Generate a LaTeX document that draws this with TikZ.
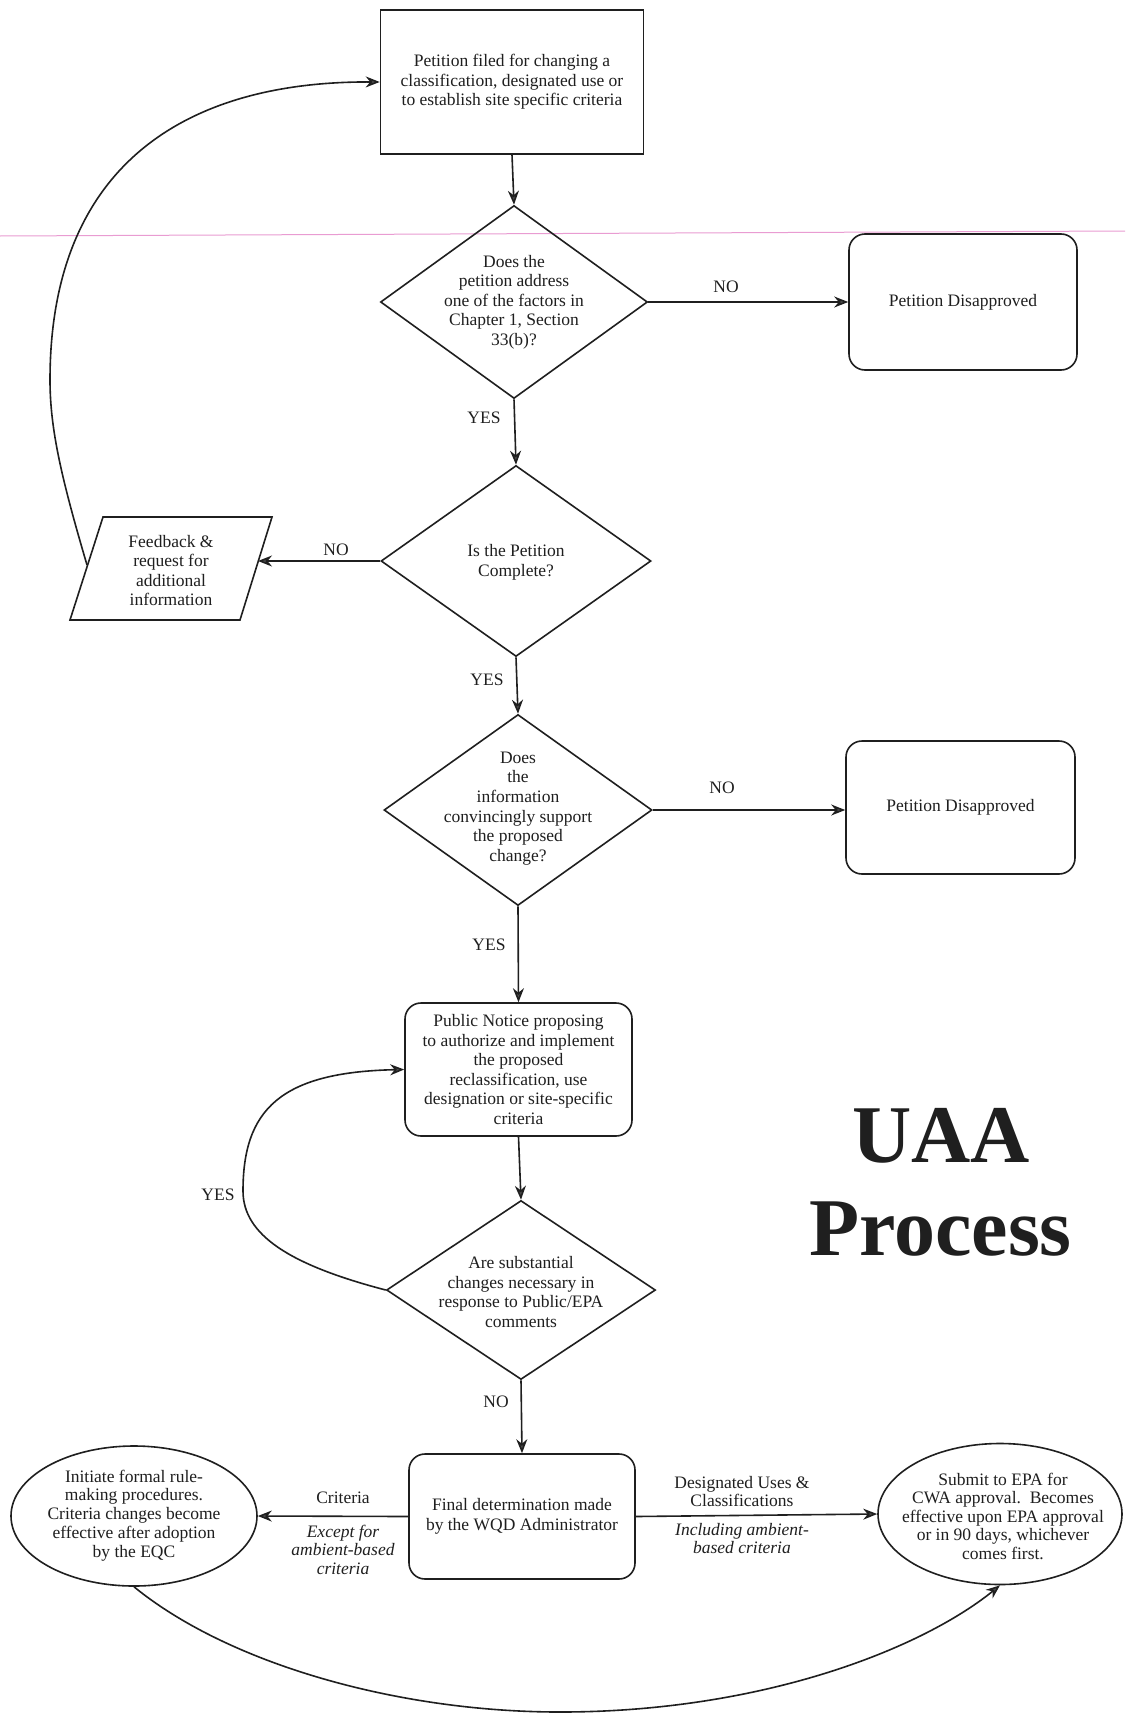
\documentclass[tikz,border=0pt]{standalone}
\usepackage{fontspec}
\setmainfont{Liberation Serif}
\usetikzlibrary{shapes.geometric,arrows.meta}
\definecolor{ink}{rgb}{0.12,0.12,0.12}
\definecolor{scanpink}{rgb}{0.88,0.45,0.75}
\begin{document}
\begin{tikzpicture}[x=1pt,y=-1pt,
  txt/.style={font=\fontsize{17.5}{19.6}\selectfont, align=center, inner sep=0pt, text=ink},
  itxt/.style={font=\fontsize{17.5}{18.5}\selectfont\itshape, align=center, inner sep=0pt, text=ink},
  shp/.style={draw=ink, line width=1.6pt, inner sep=0pt},
  sqbox/.style={shp, rectangle},
  rbox/.style={shp, rectangle, rounded corners=16pt},
  dia/.style={shp, diamond},
  ell/.style={shp, ellipse},
  arr/.style={draw=ink, line width=1.6pt, -{Stealth[length=14pt,width=11pt,fill=ink!80]}},
  titlefont/.style={anchor=base, inner sep=0pt, text=ink, font=\fontsize{82}{93}\selectfont\bfseries},
]
\useasboundingbox (0,0) rectangle (1125,1718);
\fill[white] (0,0) rectangle (1125,1718);
\draw[scanpink, line width=1pt, opacity=0.7] (0,236) -- (1125,231);

% main column
\node[sqbox, txt, minimum width=263pt, minimum height=144pt] (box1) at (512,82)
  {Petition filed for changing a\\classification, designated use or\\to establish site specific criteria};

\node[dia, minimum width=267pt, minimum height=193pt] (d1) at (514,302) {};
\node[txt] (d1t) at (514,302) {Does the\\petition address\\one of the factors in\\Chapter 1, Section\\33(b)?};
\node[rbox, txt, minimum width=228pt, minimum height=136pt] (pd1) at (963,302) {Petition Disapproved};

\node[dia, minimum width=270pt, minimum height=191pt] (d2) at (516,561) {};
\node[txt] (d2t) at (516,562) {Is the Petition\\Complete?};

% parallelogram (feedback)
\coordinate (fbA) at (103,517);
\coordinate (fbB) at (272,517);
\coordinate (fbC) at (240,620);
\coordinate (fbD) at (70,620);
\draw[shp, line join=miter] (fbA) -- (fbB) -- (fbC) -- (fbD) -- cycle;
\coordinate (fbE) at (258,561);
\coordinate (fbW) at (87,565);
\node[txt] (fbt) at (171,570.5) {Feedback \&\\request for\\additional\\information};

\node[dia, minimum width=268pt, minimum height=191pt] (d3) at (518,810) {};
\node[txt] (d3t) at (518,808.5) {Does\\the\\information\\convincingly support\\the proposed\\change?};
\node[rbox, txt, minimum width=229pt, minimum height=133pt] (pd2) at (960.5,807.5) {Petition Disapproved};

\node[rbox, txt, minimum width=227pt, minimum height=133pt] (pn) at (518.5,1069.5)
  {Public Notice proposing\\to authorize and implement\\the proposed\\reclassification, use\\designation or site-specific\\criteria};

\node[dia, minimum width=269pt, minimum height=179pt] (d4) at (521,1290) {};
\node[txt] (d4t) at (521,1292) {Are substantial\\changes necessary in\\response to Public/EPA\\comments};

\node[rbox, txt, minimum width=226pt, minimum height=125pt] (fin) at (522,1516.5)
  {Final determination made\\by the WQD Administrator};

\node[ell, minimum width=246pt, minimum height=140pt] (el) at (134,1516) {};
\node[txt, font=\fontsize{17.5}{18.8}\selectfont] (elt) at (134,1515.5)
  {Initiate formal rule-\\making procedures.\\Criteria changes become\\effective after adoption\\by the EQC};

\node[ell, minimum width=244pt, minimum height=141pt] (er) at (1000,1514) {};
\node[txt, font=\fontsize{17.5}{18.5}\selectfont] (ert) at (1003,1516)
  {Submit to EPA for\\CWA approval.\ \ Becomes\\effective upon EPA approval\\or in 90 days, whichever\\comes first.};

% title
\node[titlefont] (uaa) at (941,1162) {UAA};
\node[titlefont] (proc) at (940.5,1255) {Process};

% labels
\node[txt] (no1) at (726,287) {NO};
\node[txt] (yes1) at (484,418) {YES};
\node[txt] (no2) at (336,550) {NO};
\node[txt] (yes2) at (487,680) {YES};
\node[txt] (no3) at (722,788) {NO};
\node[txt] (yes3) at (489,945) {YES};
\node[txt] (yes4) at (218,1195) {YES};
\node[txt] (no4) at (496,1402) {NO};
\node[txt] (crit) at (343,1498) {Criteria};
\node[itxt] (exc) at (343,1549.5) {Except for\\ambient-based\\criteria};
\node[txt, font=\fontsize{17.5}{18}\selectfont] (des) at (742,1491) {Designated Uses \&\\Classifications};
\node[itxt, font=\fontsize{17.5}{18}\selectfont\itshape] (inc) at (742,1538) {Including ambient-\\based criteria};

% connectors
\draw[arr] (box1.south) -- (d1.north);
\draw[arr] (d1.east) -- (pd1.west);
\draw[arr] (d1.south) -- (d2.north);
\draw[arr] (d2.west) -- (fbE);
\draw[arr] (d2.south) -- (d3.north);
\draw[arr] (d3.east) -- (d3.east -| pd2.west);
\draw[arr] (d3.south) -- (pn.north);
\draw[arr] (pn.south) -- (d4.north);
\draw[arr] (d4.south) -- (fin.north);
\draw[arr] (fin.west) -- (el.east);
\draw[arr] (fin.east) -- (er.west);

\draw[arr] (fbW) .. controls (62,480) and (50,430) .. (50,380)
  .. controls (50,170) and (180,81) .. (box1.west);
\draw[arr] (d4.west) .. controls (290,1265) and (243,1235) .. (243,1191)
  .. controls (243,1110) and (280,1072) .. (pn.west);
\draw[arr] (el.south) .. controls (230,1665) and (400,1712) .. (560,1712)
  .. controls (760,1712) and (920,1650) .. (er.south);
\end{tikzpicture}
\end{document}
